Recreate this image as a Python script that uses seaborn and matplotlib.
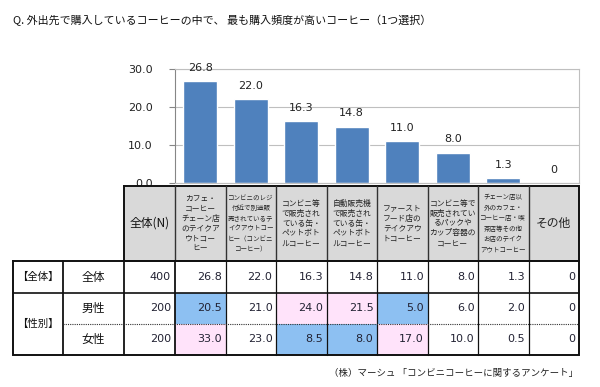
import numpy as np
import pandas as pd
import matplotlib
matplotlib.use("Agg")
import matplotlib.pyplot as plt
import seaborn as sns
from matplotlib.patches import Rectangle

sns.set_theme(style="white")
plt.rcParams['font.family'] = ['Noto Sans CJK JP', 'DejaVu Sans']

# ---- data ----
title = "Q. 外出先で購入しているコーヒーの中で、 最も購入頻度が高いコーヒー（1つ選択）"
source = "（株）マーシュ 「コンビニコーヒーに関するアンケート」"

headers = [
    "カフェ・\nコーヒー\nチェーン店\nのテイクア\nウトコー\nヒー",
    "コンビニのレジ\n付近で別途販\n売されているテ\nイクアウトコー\nヒー（コンビニ\nコーヒー）",
    "コンビニ等\nで販売され\nている缶・\nペットボト\nルコーヒー",
    "自動販売機\nで販売され\nている缶・\nペットボト\nルコーヒー",
    "ファースト\nフード店の\nテイクアウ\nトコーヒー",
    "コンビニ等で\n販売されてい\nるパックや\nカップ容器の\nコーヒー",
    "チェーン店以\n外のカフェ・\nコーヒー店・喫\n茶店等その他\nお店のテイク\nアウトコーヒー",
    "その他",
]
n_header = "全体(N)"
group_labels = ["【全体】", "【性別】"]
row_labels = ["全体", "男性", "女性"]
row_n = [400, 200, 200]
total = [26.8, 22.0, 16.3, 14.8, 11.0, 8.0, 1.3, 0]
male = [20.5, 21.0, 24.0, 21.5, 5.0, 6.0, 2.0, 0]
female = [33.0, 23.0, 8.5, 8.0, 17.0, 10.0, 0.5, 0]
yticks = [0, 10, 20, 30]


def fmt(v):
    return f"{v:.1f}" if v else "0"


df = pd.DataFrame({'category': headers, 'value': total})

# ---- figure ----
fig = plt.figure(figsize=(6, 3.87), dpi=100)
W, H = 600, 387

# bar chart area (pixel layout of the reference)
ax = fig.add_axes([175 / W, (H - 183) / H, 404 / W, 114 / H])
sns.barplot(data=df, x='category', y='value', color='#4F81BD', saturation=1,
            width=0.67, ax=ax, errorbar=None)
ax.set_ylim(0, 30)
ax.set_xlim(-0.5, 7.5)
ax.set_yticks(yticks)
ax.set_yticklabels([f"{t:.1f}" for t in yticks], fontsize=8, color='#222222',
                   family='DejaVu Sans')
ax.set_xticks([])
ax.set_xlabel('')
ax.set_ylabel('')
ax.yaxis.grid(True, color='#BFBFBF', linewidth=0.8)
ax.set_axisbelow(True)
for side in ['top', 'right', 'bottom']:
    ax.spines[side].set_color('#BFBFBF')
    ax.spines[side].set_linewidth(0.8)
ax.spines['left'].set_color('#868686')
ax.spines['left'].set_linewidth(0.8)
ax.tick_params(axis='y', left=True, length=4, width=0.8, color='#868686', pad=12)
ax.bar_label(ax.containers[0], labels=[fmt(v) for v in total], padding=6,
             fontsize=8, color='#222222', family='DejaVu Sans')

fig.text(13 / W, 1 - 20 / H, title, fontsize=7.9, va='center', ha='left', color='#111111')
fig.text(578 / W, 1 - 373 / H, source, fontsize=6.8, va='center', ha='right', color='#222222')

# ---- table overlay in pixel coordinates ----
tab = fig.add_axes([0, 0, 1, 1], zorder=3)
tab.set_xlim(0, W)
tab.set_ylim(H, 0)
tab.axis('off')

col_edges = [13, 63, 124] + [175 + 50.5 * i for i in range(9)]
hdr_top, hdr_bot = 186, 261
row_edges = [261, 293, 323.5, 355]
right = col_edges[-1]

tab.add_patch(Rectangle((124, hdr_top), right - 124, hdr_bot - hdr_top,
                        fc='#D9D9D9', ec='none'))

# highlight cells where a gender differs from total by 5pt or more
for r, vals in zip([1, 2], [male, female]):
    for i, v in enumerate(vals):
        d = v - total[i]
        if abs(d) >= 5:
            c = '#FFE3FA' if d > 0 else '#8DC0F2'
            tab.add_patch(Rectangle((col_edges[3 + i], row_edges[r]), 50.5,
                                    row_edges[r + 1] - row_edges[r], fc=c, ec='none'))

lc = '#111111'
# header box
tab.plot([124, right, right, 124, 124], [hdr_top, hdr_top, hdr_bot, hdr_bot, hdr_top],
         color=lc, lw=1.4, solid_joinstyle='miter')
for x in col_edges[3:-1]:
    tab.plot([x, x], [hdr_top, hdr_bot], color='#333333', lw=1.0)
# body box
tab.plot([13, right, right, 13, 13], [row_edges[0], row_edges[0], row_edges[-1], row_edges[-1], row_edges[0]],
         color=lc, lw=1.4, solid_joinstyle='miter')
for x in col_edges[1:4]:
    tab.plot([x, x], [row_edges[0], row_edges[-1]], color=lc, lw=1.3)
for x in col_edges[4:-1]:
    tab.plot([x, x], [row_edges[0], row_edges[-1]], color=lc, lw=0.9)
tab.plot([13, right], [row_edges[1], row_edges[1]], color=lc, lw=1.2)
tab.plot([63, right], [row_edges[2], row_edges[2]], color='#333333', lw=0.8,
         linestyle=(0, (1, 1)))

# header text
hy = (hdr_top + hdr_bot) / 2
tab.text(149.5, hy, n_header, ha='center', va='center', fontsize=8.5, color='#111111')
for i, h in enumerate(headers):
    cx = col_edges[3 + i] + 25.25
    if h == "その他":
        fs = 8.5
    elif max(len(s) for s in h.split('\n')) >= 7:
        fs = 4.7
    else:
        fs = 5.6
    tab.text(cx, hy, h, ha='center', va='center', fontsize=fs, color='#222222',
             linespacing=1.4 if fs < 5 else 1.3)

# body text
row_cy = [(row_edges[k] + row_edges[k + 1]) / 2 for k in range(3)]
tab.text(38, row_cy[0], group_labels[0], ha='center', va='center', fontsize=7.5, color='#111111')
tab.text(38, (row_edges[1] + row_edges[3]) / 2, group_labels[1], ha='center', va='center',
         fontsize=7.5, color='#111111')
for k, (lab, n, vals) in enumerate(zip(row_labels, row_n, [total, male, female])):
    tab.text(93.5, row_cy[k], lab, ha='center', va='center', fontsize=8.5, color='#111111')
    tab.text(171, row_cy[k], str(n), ha='right', va='center', fontsize=8, color='#222233',
             family='DejaVu Sans')
    for i, v in enumerate(vals):
        tab.text(col_edges[3 + i] + 47, row_cy[k], fmt(v), ha='right', va='center',
                 fontsize=8, color='#222233', family='DejaVu Sans')

fig.savefig('out.png', dpi=100)
